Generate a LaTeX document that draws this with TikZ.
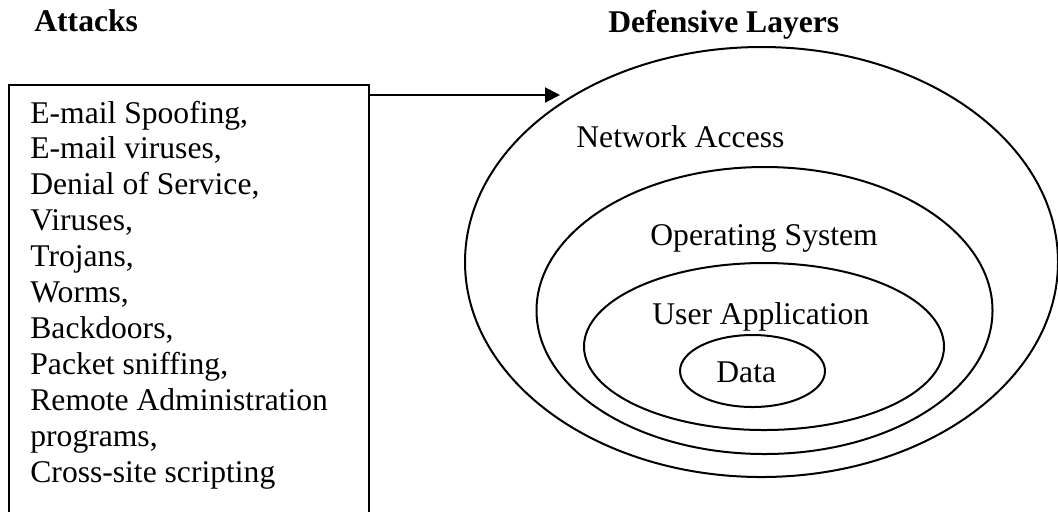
\documentclass[tikz,border=0pt]{standalone}
\usepackage{fontspec}
\setmainfont{Liberation Serif}
\usetikzlibrary{arrows.meta,shapes.geometric,positioning}
\tikzset{
    %Define standard arrow tip
    >={Triangle[length=7.5pt,width=7.5pt]},
    %Define style for the attack box
    attackbox/.style={
           rectangle,
           draw=black, line width=1.1pt,
           minimum width=180pt,
           minimum height=228pt,
           inner sep=0pt,
           anchor=north west},
    %Define style for the layers
    layer/.style={
           ellipse,
           draw=black, line width=1pt,
           inner sep=0pt},
    %Define style for texts
    textlabel/.style={
           font=\fontsize{15.8}{15}\selectfont,
           inner sep=0pt,
           anchor=base west},
    heading/.style={
           font=\fontsize{15.8}{16}\selectfont\bfseries,
           inner sep=0pt,
           anchor=base west},
    % Define arrow style
    pil/.style={
           ->,
           line width=1pt}
}
\begin{document}
\begin{tikzpicture}[x=0.5pt,y=-0.5pt]
\useasboundingbox (0,0) rectangle (1058,511);
\clip (0,0) rectangle (1058,511);
 %headings
\node[heading] (attacks) at (34,31) {Attacks};
\node[heading] (defence) at (608,32) {Defensive Layers};
 %attacks
\node[attackbox] (box) at (8,84) {};
\foreach \i/\txt in {0/{E-mail Spoofing,},1/{E-mail viruses,},2/{Denial of Service,},
    3/{Viruses,},4/{Trojans,},5/{Worms,},6/{Backdoors,},7/{Packet sniffing,},
    8/{Remote Administration},9/{programs,},10/{Cross-site scripting}}
  \node[textlabel] (item\i) at (30,123+35.9*\i) {\txt};
 %layers
\node[layer, minimum width=296.5pt, minimum height=215pt] (net) at (761.5,262) {};
\node[layer, minimum width=228pt, minimum height=143.5pt] (os) at (764.5,310.5) {};
\node[layer, minimum width=180pt, minimum height=83.5pt] (app) at (764,346.5) {};
\node[layer, minimum width=72.5pt, minimum height=36pt] (data) at (752.5,371) {};
\node[textlabel] (netlabel) at (576,147) {Network Access};
\node[textlabel] (oslabel) at (650,245) {Operating System};
\node[textlabel] (applabel) at (652,324) {User Application};
\node[textlabel] (datalabel) at (716,382) {Data};
 %arrow
\coordinate (tip) at (560,95);
\draw[pil] ([yshift=-5.5pt]box.north east) -- (tip);
\end{tikzpicture}
\end{document}
